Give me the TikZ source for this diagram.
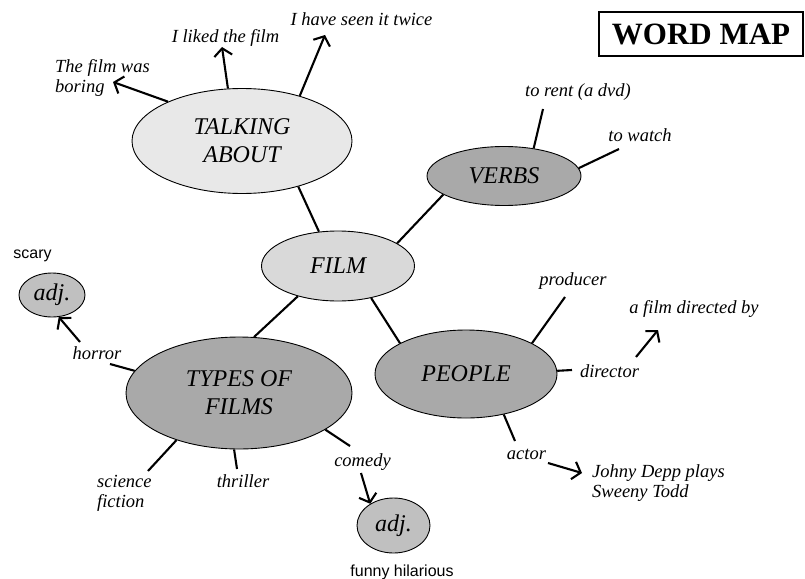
\documentclass[tikz,border=0pt]{standalone}
\usepackage{fontspec}
\setmainfont{Liberation Serif}
\newfontfamily\sansf{Liberation Sans}
\usetikzlibrary{shapes.geometric,arrows.meta}
\definecolor{cLight}{HTML}{E8E8E8}
\definecolor{cFilm}{HTML}{D9D9D9}
\definecolor{cDark}{HTML}{A9A9A9}
\definecolor{cAdj}{HTML}{C0C0C0}
\tikzset{
  bubble/.style={ellipse,draw=black,line width=0.9pt,inner sep=0pt,align=center,
    font=\fontsize{24}{28}\selectfont\itshape},
  lbl/.style={inner sep=0pt,font=\fontsize{18.5}{21}\selectfont\itshape},
  lblml/.style={inner sep=0pt,align=left,anchor=north west,font=\fontsize{18.5}{20.5}\selectfont\itshape},
  sanslbl/.style={inner sep=0pt,font=\fontsize{16}{19}\selectfont\sansf},
  conn/.style={line width=2.1pt},
  arr/.style={line width=2.1pt,-{Straight Barb[length=7.5pt,width=18pt]}}
}
\begin{document}
\begin{tikzpicture}[x=1pt,y=-1pt]
\useasboundingbox (0,0) rectangle (805,578);
% title
\node[draw=black,line width=1.2pt,minimum width=204pt,minimum height=44pt,inner sep=0pt,
  font=\fontsize{31}{34}\selectfont\bfseries] (title) at (701,34) {WORD MAP};
% bubbles
\node[bubble,fill=cLight,minimum width=220pt,minimum height=105pt] (talk) at (242,141) {TALKING\\ABOUT};
\node[bubble,fill=cDark,minimum width=154pt,minimum height=59pt] (verbs) at (504,176) {VERBS};
\node[bubble,fill=cFilm,minimum width=153pt,minimum height=70pt] (film) at (338,266) {FILM};
\node[bubble,fill=cDark,minimum width=226pt,minimum height=112pt] (types) at (239,393) {TYPES OF\\FILMS};
\node[bubble,fill=cDark,minimum width=182pt,minimum height=88pt] (people) at (466,374) {PEOPLE};
\node[bubble,fill=cAdj,minimum width=66pt,minimum height=44pt] (adjL) at (52,295) {adj.};
\node[bubble,fill=cAdj,minimum width=73pt,minimum height=55pt] (adjB) at (393.5,525.5) {adj.};
% labels
\node[lblml] (boring) at (55,59) {The film was\\boring};
\node[lbl,anchor=base] (liked) at (225.5,42) {I liked the film};
\node[lbl,anchor=base] (twice) at (361.5,26) {I have seen it twice};
\node[lbl,anchor=base] (rent) at (578,96) {to rent (a dvd)};
\node[lbl,anchor=base] (watch) at (640,141) {to watch};
\node[lbl,anchor=base] (producer) at (573,285) {producer};
\node[lbl,anchor=base] (directed) at (694,313) {a film directed by};
\node[lbl,anchor=base] (director) at (609.5,377) {director};
\node[lbl,anchor=base] (actor) at (526.5,459) {actor};
\node[lblml] (depp) at (592,464) {Johny Depp plays\\Sweeny Todd};
\node[lbl,anchor=base] (horror) at (97,359) {horror};
\node[lblml] (scifi) at (97,475) {science\\fiction};
\node[lbl,anchor=base] (thriller) at (243,487) {thriller};
\node[lbl,anchor=base] (comedy) at (362.5,466) {comedy};
\node[sanslbl,anchor=base] (scary) at (32.5,258) {scary};
\node[sanslbl,anchor=base] (funny) at (402,576) {funny hilarious};
% free ends
\coordinate (eBoring) at (113,82);
\coordinate (eLiked) at (222,47);
\coordinate (eTwice) at (325,35);
\coordinate (eRent) at (543,109);
\coordinate (eWatch) at (619,149);
\coordinate (eProd) at (565,297);
\coordinate (eDir) at (572,370);
\coordinate (sDirA) at (636,357);
\coordinate (eDirA) at (658,330);
\coordinate (eActor) at (515,441);
\coordinate (sActA) at (548,463);
\coordinate (eActA) at (582,473);
\coordinate (eHorror) at (110,364);
\coordinate (sHorA) at (80,342);
\coordinate (eSci) at (148,471);
\coordinate (eThr) at (237,469);
\coordinate (eCom) at (350,446);
\coordinate (sComA) at (361,473);
% main connectors
\draw[conn] (film.119) -- (talk.-39);
\draw[conn] (film.21) -- (verbs.197);
\draw[conn] (film.217) -- (types.75);
\draw[conn] (film.-44) -- (people.155);
% talking about
\draw[arr] (talk.152.5) -- (eBoring);
\draw[arr] (talk.105.8) -- (eLiked);
\draw[arr] (talk.38.4) -- (eTwice);
% verbs
\draw[conn] (verbs.43) -- (eRent);
\draw[conn] (verbs.6) -- (eWatch);
% people
\draw[conn] (people.25.5) -- (eProd);
\draw[conn] (people.2.5) -- (eDir);
\draw[arr] (sDirA) -- (eDirA);
\draw[conn] (people.-47) -- (eActor);
\draw[arr] (sActA) -- (eActA);
% types
\draw[conn] (types.168.6) -- (eHorror);
\draw[arr] (sHorA) -- (adjL.-73);
\draw[conn] (types.217.7) -- (eSci);
\draw[conn] (types.265) -- (eThr);
\draw[conn] (types.-23) -- (eCom);
\draw[arr] (sComA) -- (adjB.137);
\end{tikzpicture}
\end{document}
